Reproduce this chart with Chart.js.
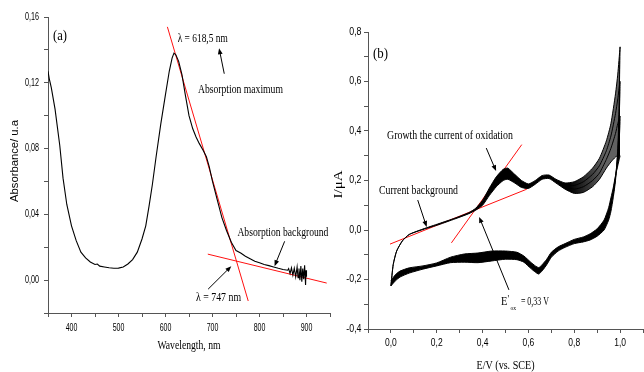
<!DOCTYPE html>
<html><head><meta charset="utf-8">
<script src="https://cdn.jsdelivr.net/npm/chart.js@4/dist/chart.umd.min.js"></script>
<style>
html,body{margin:0;padding:0;background:#fff;width:644px;height:372px;overflow:hidden}
#wa{position:absolute;left:0;top:0;width:334px;height:372px}
#wb{position:absolute;left:330px;top:0;width:314px;height:372px}
</style></head><body>
<div id="wa"><canvas id="ca" width="334" height="372"></canvas></div>
<div id="wb"><canvas id="cb" width="314" height="372"></canvas></div>
<script>
// ===== Panel (a): absorption spectrum =====
const wavelength = [350,353,357,365,375,382,390,400,410,420,430,440,450,455,460,470,480,490,500,510,520,530,540,550,558,565,572,580,590,600,608,614,618,622,628,635,642,650,658,665,672,680,687,693,700,710,720,730,740,750,760,770,780,790,800,810,820,830,840,850,860,862,865,868,871,874,877,880,882,884,886,888,890,892,894,896,898,899,900];
const absorbance = [0.127,0.122,0.117,0.104,0.082,0.062,0.046,0.033,0.024,0.017,0.0135,0.011,0.0095,0.0098,0.0085,0.008,0.0075,0.0072,0.0073,0.008,0.0098,0.0125,0.017,0.025,0.033,0.045,0.058,0.075,0.095,0.113,0.127,0.135,0.138,0.137,0.133,0.125,0.113,0.1,0.092,0.087,0.083,0.079,0.075,0.069,0.06,0.049,0.038,0.03,0.023,0.018,0.0165,0.0145,0.013,0.0115,0.0105,0.0095,0.0088,0.008,0.0072,0.0065,0.006,0.007,0.004,0.0075,0.003,0.0072,0.002,0.008,0.0015,0.007,0.0,0.0085,-0.001,0.007,0.0005,0.009,-0.003,0.006,0.002];
const tangentPeakX = [604, 776];
const tangentPeakY = [0.154, -0.0127];
const tangentBgX = [690, 943];
const tangentBgY = [0.0158, -0.0018];
const xTickValsA = [400, 500, 600, 700, 800, 900];
const xTickLabelsA = ['400', '500', '600', '700', '800', '900'];
const yTickValsA = [0, 0.04, 0.08, 0.12, 0.16];
const yTickLabelsA = ['0,00', '0,04', '0,08', '0,12', '0,16'];

// ===== Panel (b): cyclic voltammograms =====
const cvFwdE = [0,0.01,0.025,0.05,0.08,0.14,0.21,0.28,0.34,0.37,0.40,0.43,0.46,0.49,0.51,0.54,0.57,0.60,0.63,0.66,0.69,0.72,0.76,0.80,0.84,0.88,0.91,0.94,0.96,0.98,0.99,1.0];
const cvFwdOuter = [-0.226,-0.14,-0.085,-0.044,-0.018,0.004,0.026,0.048,0.070,0.088,0.12,0.17,0.215,0.245,0.25,0.225,0.20,0.186,0.20,0.22,0.222,0.205,0.19,0.195,0.215,0.25,0.29,0.36,0.43,0.55,0.63,0.74];
const cvFwdInner = [-0.226,-0.14,-0.085,-0.044,-0.018,0.002,0.022,0.045,0.066,0.08,0.10,0.14,0.175,0.20,0.205,0.19,0.172,0.168,0.185,0.205,0.208,0.19,0.165,0.148,0.152,0.175,0.205,0.25,0.275,0.295,0.30,0.30];
const cvRevE = [0,0.02,0.04,0.08,0.14,0.20,0.26,0.32,0.38,0.44,0.50,0.55,0.58,0.61,0.63,0.645,0.66,0.68,0.70,0.73,0.76,0.80,0.84,0.87,0.90,0.93,0.95,0.96,0.97,0.98,0.99,0.995,1.0];
const cvRevOuter = [-0.226,-0.205,-0.19,-0.174,-0.158,-0.145,-0.132,-0.13,-0.132,-0.125,-0.118,-0.12,-0.13,-0.155,-0.17,-0.178,-0.165,-0.14,-0.11,-0.085,-0.07,-0.055,-0.048,-0.04,-0.025,0.0,0.04,0.075,0.13,0.2,0.33,0.48,0.74];
const cvRevInner = [-0.206,-0.18,-0.166,-0.153,-0.145,-0.133,-0.11,-0.097,-0.093,-0.085,-0.085,-0.09,-0.105,-0.13,-0.145,-0.152,-0.14,-0.118,-0.09,-0.068,-0.055,-0.038,-0.028,-0.015,0.005,0.04,0.09,0.13,0.17,0.22,0.26,0.28,0.30];
// intermediate cycles near the switching potential (forward then reverse)
const cvHighE = [0.72,0.76,0.80,0.84,0.88,0.91,0.94,0.96,0.98,0.99,1.0,0.995,0.99,0.98,0.97];
const cvMid1 = [0.20,0.182,0.18,0.195,0.225,0.26,0.32,0.38,0.47,0.53,0.60,0.42,0.31,0.21,0.14];
const cvMid2 = [0.195,0.175,0.165,0.175,0.20,0.23,0.285,0.33,0.39,0.43,0.46,0.34,0.28,0.215,0.155];
const tangentBgEx = [-0.004, 0.593];
const tangentBgIy = [-0.057, 0.165];
const tangentOxEx = [0.264, 0.571];
const tangentOxIy = [-0.052, 0.345];
const xTickValsB = [0, 0.2, 0.4, 0.6, 0.8, 1.0];
const xTickLabelsB = ['0,0', '0,2', '0,4', '0,6', '0,8', '1,0'];
const yTickValsB = [-0.4, -0.2, 0, 0.2, 0.4, 0.6, 0.8];
const yTickLabelsB = ['-0,4', '-0,2', '0,0', '0,2', '0,4', '0,6', '0,8'];

// ===== helpers =====
const SERIF = '"Liberation Serif","Times New Roman",serif';
const SANS = '"Liberation Sans",Arial,sans-serif';
const pts = (xs, ys) => xs.map((x, i) => ({x: x, y: ys[i]}));

function txt(c, s, x, y, font, align, sx, targetW) {
  c.save();
  c.font = font;
  if (targetW) sx = targetW / c.measureText(s).width;
  c.translate(x, y);
  c.scale(sx || 1, 1);
  c.textAlign = align || 'left';
  c.textBaseline = 'middle';
  c.fillStyle = '#000';
  c.fillText(s, 0, 0);
  c.restore();
}
function txtRot(c, s, x, y, font, targetW) {
  c.save();
  c.font = font;
  const sx = targetW ? targetW / c.measureText(s).width : 1;
  c.translate(x, y);
  c.rotate(-Math.PI / 2);
  c.scale(sx, 1);
  c.textAlign = 'center';
  c.textBaseline = 'middle';
  c.fillStyle = '#000';
  c.fillText(s, 0, 0);
  c.restore();
}
function arrow(c, x1, y1, x2, y2) {
  c.save();
  c.strokeStyle = '#000'; c.fillStyle = '#000'; c.lineWidth = 1;
  const ang = Math.atan2(y2 - y1, x2 - x1), L = 6, W = 2.4;
  c.beginPath(); c.moveTo(x1, y1); c.lineTo(x2 - Math.cos(ang) * L * 0.8, y2 - Math.sin(ang) * L * 0.8); c.stroke();
  c.beginPath();
  c.moveTo(x2, y2);
  c.lineTo(x2 - Math.cos(ang) * L - Math.sin(ang) * W, y2 - Math.sin(ang) * L + Math.cos(ang) * W);
  c.lineTo(x2 - Math.cos(ang) * L + Math.sin(ang) * W, y2 - Math.sin(ang) * L - Math.cos(ang) * W);
  c.closePath(); c.fill();
  c.restore();
}

function axisOpts(min, max, step, fitKey, fitVal) {
  return {
    type: 'linear', min: min, max: max,
    ticks: {stepSize: step, display: false},
    grid: {drawOnChartArea: false, drawTicks: true, tickLength: 4, tickColor: '#555', tickWidth: 1},
    border: {display: true, color: '#555', width: 1},
    afterFit: function (s) { s[fitKey] = fitVal; }
  };
}
const baseOpts = {
  responsive: false, animation: false, events: [],
  plugins: {legend: {display: false}, tooltip: {enabled: false}},
  elements: {point: {radius: 0}}
};

// ===== Chart (a) =====
const annotA = {
  id: 'annotA',
  afterDraw(chart) {
    const c = chart.ctx, xs = chart.scales.x, ys = chart.scales.y, a = chart.chartArea;
    const X = v => xs.getPixelForValue(v), Y = v => ys.getPixelForValue(v);
    xTickValsA.forEach((v, i) => txt(c, xTickLabelsA[i], X(v), a.bottom + 15, '10px ' + SANS, 'center', 0.7));
    yTickValsA.forEach((v, i) => txt(c, yTickLabelsA[i], a.left - 9, Y(v), '10px ' + SANS, 'right', 0.72));
    txt(c, 'Wavelength, nm', (a.left + a.right) / 2, a.bottom + 33, '12px ' + SERIF, 'center', 0, 63);
    txtRot(c, 'Absorbance/ u.a', 15, (a.top + a.bottom) / 2 - 4, '11px ' + SANS, 82);
    txt(c, '(a)', X(360.7), Y(0.148), '14px ' + SERIF, 'left', 0, 14);
    txt(c, '\u03bb = 618,5 nm', X(626), Y(0.147), '12px ' + SERIF, 'left', 0, 50);
    txt(c, 'Absorption maximum', X(669), Y(0.116), '12px ' + SERIF, 'left', 0, 85);
    txt(c, 'Absorption background', X(753), Y(0.029), '12px ' + SERIF, 'left', 0, 91);
    txt(c, '\u03bb = 747 nm', X(665), Y(-0.011), '12px ' + SERIF, 'left', 0, 45);
    arrow(c, X(725), Y(0.1255), X(714), Y(0.141));
    arrow(c, X(853.5), Y(0.0236), X(832), Y(0.0085));
    arrow(c, X(690.7), Y(-0.0055), X(740), Y(0.0085));
  }
};
new Chart(document.getElementById('ca'), {
  type: 'line',
  data: {datasets: [
    {data: pts(wavelength, absorbance), borderColor: '#000', borderWidth: 1.1, tension: 0, fill: false},
    {data: pts(tangentPeakX, tangentPeakY), borderColor: '#ff1010', borderWidth: 1, fill: false},
    {data: pts(tangentBgX, tangentBgY), borderColor: '#ff1010', borderWidth: 1, fill: false}
  ]},
  options: Object.assign({}, baseOpts, {
    layout: {padding: {left: 0, top: 17, right: 4, bottom: 0}},
    scales: {
      x: axisOpts(350, 950, 50, 'height', 59),
      y: axisOpts(-0.02, 0.16, 0.02, 'width', 48)
    }
  }),
  plugins: [annotA]
});

// ===== Chart (b) =====
const annotB = {
  id: 'annotB',
  afterDraw(chart) {
    const c = chart.ctx, xs = chart.scales.x, ys = chart.scales.y, a = chart.chartArea;
    const X = v => xs.getPixelForValue(v), Y = v => ys.getPixelForValue(v);
    xTickValsB.forEach((v, i) => txt(c, xTickLabelsB[i], X(v), a.bottom + 14, '10px ' + SANS, 'center', 0.85));
    yTickValsB.forEach((v, i) => txt(c, yTickLabelsB[i], a.left - 6.5, Y(v), '10px ' + SANS, 'right', 0.88));
    txt(c, 'E/V (vs. SCE)', (a.left + a.right) / 2, a.bottom + 37, '12px ' + SERIF, 'center', 0, 58);
    txtRot(c, 'I/\u03bcA', 9, (a.top + a.bottom) / 2 + 4, '12px ' + SERIF, 28);
    txt(c, '(b)', X(-0.078), Y(0.711), '14px ' + SERIF, 'left', 0, 15);
    txt(c, 'Growth the current of oxidation', X(-0.017), Y(0.38), '13px ' + SERIF, 'left', 0, 126);
    txt(c, 'Current background', X(-0.052), Y(0.158), '13px ' + SERIF, 'left', 0, 79);
    const ex = X(0.48), ey = Y(-0.291);
    txt(c, 'E', ex, ey, '13px ' + SERIF, 'left', 0.8);
    txt(c, '\'', ex + 6.5, ey - 3, '11px ' + SERIF, 'left', 0.8);
    txt(c, 'ox', ex + 9.5, ey + 6, '7px ' + SERIF, 'left', 0.8);
    txt(c, '= 0,33 V', ex + 20, ey, '13px ' + SERIF, 'left', 0, 28);
    arrow(c, X(0.416), Y(0.331), X(0.459), Y(0.238));
    arrow(c, X(0.117), Y(0.121), X(0.156), Y(0.012));
    arrow(c, X(0.515), Y(-0.242), X(0.385), Y(0.053));
  }
};
function fanFill(ctx) {
  const ch = ctx.chart, a = ch.chartArea, xs = ch.scales && ch.scales.x;
  if (!a || !xs) return '#000';
  const x0 = xs.getPixelForValue(0.78), x1 = xs.getPixelForValue(0.93);
  if (!isFinite(x0) || !isFinite(x1)) return '#000';
  const g = ch.ctx.createLinearGradient(x0, 0, x1, 0);
  g.addColorStop(0, 'rgba(0,0,0,1)');
  g.addColorStop(1, 'rgba(0,0,0,0.62)');
  return g;
}
new Chart(document.getElementById('cb'), {
  type: 'line',
  data: {datasets: [
    {data: pts(cvFwdE, cvFwdOuter), borderColor: '#000', borderWidth: 1, tension: 0.2, fill: '+1', backgroundColor: fanFill},
    {data: pts(cvFwdE, cvFwdInner), borderColor: '#000', borderWidth: 1, tension: 0.2, fill: false},
    {data: pts(cvRevE, cvRevOuter), borderColor: '#000', borderWidth: 1, tension: 0.2, fill: '+1', backgroundColor: '#000'},
    {data: pts(cvRevE, cvRevInner), borderColor: '#000', borderWidth: 1, tension: 0.2, fill: false},
    {data: pts(cvHighE, cvMid1), borderColor: '#000', borderWidth: 1, tension: 0.2, fill: false},
    {data: pts(cvHighE, cvMid2), borderColor: '#000', borderWidth: 1, tension: 0.2, fill: false},
    {data: pts(tangentBgEx, tangentBgIy), borderColor: '#ff1010', borderWidth: 1, fill: false},
    {data: pts(tangentOxEx, tangentOxIy), borderColor: '#ff1010', borderWidth: 1, fill: false}
  ]},
  options: Object.assign({}, baseOpts, {
    layout: {padding: {left: 0, top: 32, right: 1, bottom: 0}},
    scales: {
      x: axisOpts(-0.1, 1.1, 0.1, 'height', 43),
      y: axisOpts(-0.4, 0.8, 0.1, 'width', 38)
    }
  }),
  plugins: [annotB]
});
</script>
</body></html>
